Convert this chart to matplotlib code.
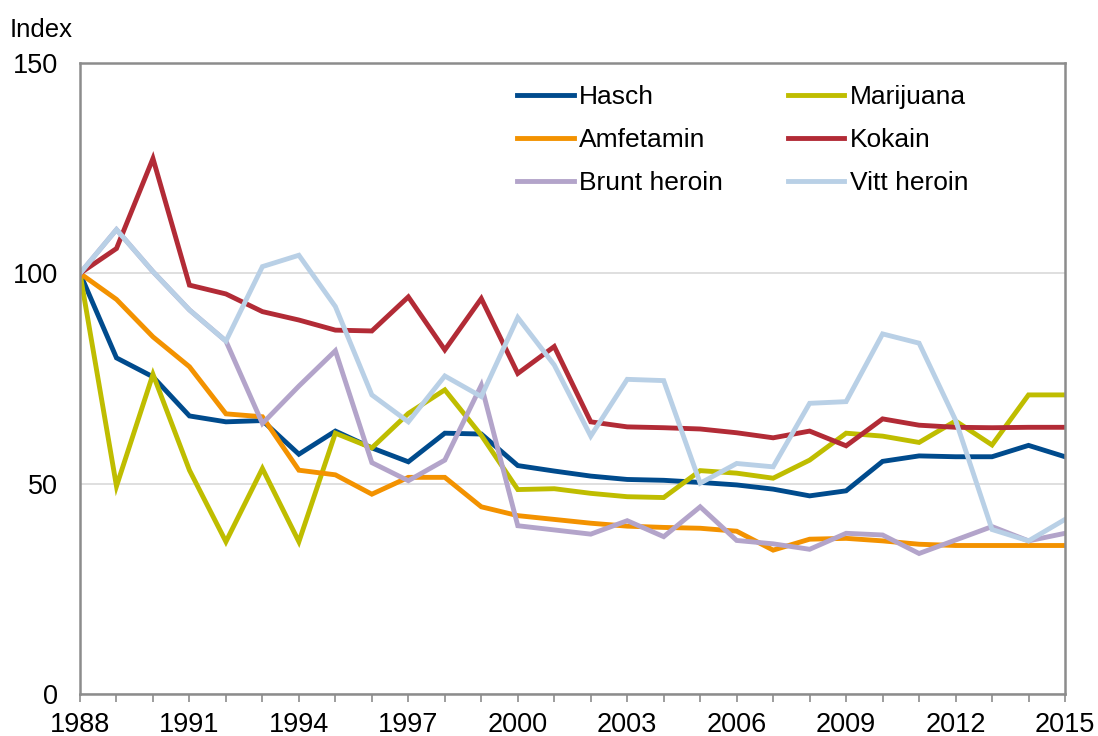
import matplotlib
matplotlib.use('Agg')
import numpy as np
from matplotlib.pyplot import figure

years = np.arange(1988, 2016)

hasch = [100, 79.9, 75.4, 66.1, 64.7, 65.0, 57.0, 62.5, 58.5, 55.2, 62.0, 61.8, 54.3, 53.0,
         51.8, 51.0, 50.8, 50.3, 49.7, 48.7, 47.1, 48.3, 55.3, 56.6, 56.4, 56.4, 59.1, 56.4]
marijuana = [100, 49.4, 76.0, 53.2, 36.2, 53.6, 36.2, 62.0, 58.5, 66.7, 72.3, 61.5, 48.6, 48.8,
             47.7, 46.9, 46.7, 53.1, 52.5, 51.3, 55.6, 62.0, 61.3, 59.8, 64.9, 59.2, 71.1, 71.1]
amfetamin = [100, 93.8, 84.9, 77.8, 66.6, 65.9, 53.2, 52.1, 47.5, 51.5, 51.5, 44.5, 42.4, 41.5,
             40.6, 39.9, 39.6, 39.4, 38.7, 34.2, 36.8, 37.0, 36.4, 35.6, 35.3, 35.3, 35.3, 35.3]
kokain = [100, 105.9, 127.3, 97.2, 95.1, 90.9, 88.9, 86.5, 86.3, 94.4, 81.8, 94.0, 76.2, 82.6,
          64.7, 63.5, 63.3, 63.0, 62.1, 60.9, 62.5, 59.0, 65.4, 63.9, 63.4, 63.3, 63.4, 63.4]
brunt_heroin = [100, 110.4, 100.4, 91.3, 83.9, 64.3, 73.2, 81.6, 55.0, 50.7, 55.6, 73.4, 40.0, 39.0,
                38.0, 41.2, 37.4, 44.5, 36.5, 35.7, 34.4, 38.2, 37.8, 33.4, 36.6, 39.8, 36.4, 38.2]
vitt_heroin = [100, 110.4, 100.4, 91.3, 83.9, 101.6, 104.3, 92.1, 71.1, 64.7, 75.6, 70.7, 89.5, 78.2,
               61.3, 74.8, 74.5, 50.1, 54.8, 54.0, 69.1, 69.5, 85.6, 83.4, 65.1, 39.1, 36.4, 41.5]

series = [('Hasch', hasch, '#004b8d'),
          ('Marijuana', marijuana, '#bfbd00'),
          ('Amfetamin', amfetamin, '#f39200'),
          ('Kokain', kokain, '#b22b36'),
          ('Brunt heroin', brunt_heroin, '#b3a4ca'),
          ('Vitt heroin', vitt_heroin, '#b9d0e6')]

fam = 'Liberation Sans'
fg = figure(figsize=(10.98, 7.36), dpi=100)
ax = fg.add_axes([80/1098, 42/736, 985/1098, 631/736])

lines = {}
for name, vals, col in series:
    lines[name], = ax.plot(years, vals, color=col, lw=3.5, label=name, solid_joinstyle='miter')

ax.set_xlim(1988, 2015)
ax.set_ylim(0, 150)
ax.set_yticks([0, 50, 100, 150])
ax.set_xticks(years)
ax.set_xticklabels([str(y) if (y - 1988) % 3 == 0 else '' for y in years])
ax.grid(True, axis='y', color='#d9d9d9', lw=1.2)
ax.set_axisbelow(True)
for s in ax.spines.values():
    s.set_color('#8c8c8c')
    s.set_linewidth(1.8)
ax.tick_params(axis='x', direction='out', length=6, width=1.2, color='#8c8c8c',
               labelsize=19.5, pad=7)
ax.tick_params(axis='y', length=0, labelsize=19.5, pad=16)
for lab in ax.get_xticklabels() + ax.get_yticklabels():
    lab.set_family(fam)

fg.text(10/1098, 1 - 30/736, 'Index', fontsize=18.5, family=fam, va='center', ha='left')

order = ['Hasch', 'Amfetamin', 'Brunt heroin', 'Marijuana', 'Kokain', 'Vitt heroin']
ax.legend([lines[n] for n in order], order, ncol=2, frameon=False,
          loc='upper left', bbox_to_anchor=(517/1098, 1 - 85/736), bbox_transform=fg.transFigure,
          prop={'family': fam, 'size': 19}, handlelength=2.15, handletextpad=0.2,
          columnspacing=2.45, labelspacing=0.72, borderpad=0, borderaxespad=0)

fg.savefig('out.png', dpi=100)
